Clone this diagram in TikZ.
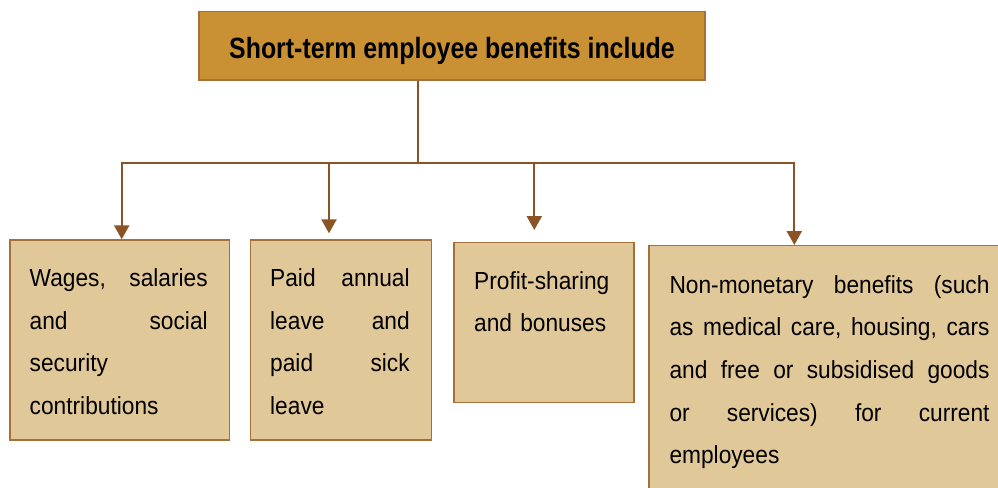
\documentclass[tikz,border=0pt]{standalone}
\usepackage{fontspec}
\setmainfont{Liberation Sans}
\newfontfamily\bodyfont[FakeStretch=0.92]{Liberation Sans}
\newfontfamily\titlefont[FakeStretch=0.85]{Liberation Sans}
\usetikzlibrary{arrows.meta}
\definecolor{titlefill}{RGB}{201,145,52}
\definecolor{boxfill}{RGB}{225,200,152}
\definecolor{boxline}{RGB}{165,112,58}
\definecolor{arrowc}{RGB}{140,84,36}
\newcommand{\jl}[2]{\leavevmode\hbox to #1{#2}}
\tikzset{
  titlebox/.style={draw=boxline, fill=titlefill, line width=1.2pt, inner sep=0pt,
    minimum width=506pt, minimum height=68.3pt, text height=25pt, text depth=0pt,
    font=\titlefont\bfseries\fontsize{29.3}{34}\selectfont},
  itembox/.style={draw=boxline, fill=boxfill, line width=1.2pt, inner sep=0pt, anchor=north west},
  itemtext/.style={inner sep=0pt, anchor=base west, align=left,
    font=\bodyfont\fontsize{24.7}{42.6}\selectfont},
  conn/.style={draw=arrowc, line width=2.3pt},
  arr/.style={conn, -{Triangle[width=15pt,length=14pt]}},
}
\begin{document}
\begin{tikzpicture}[x=1pt,y=-1pt]
\useasboundingbox (0,0) rectangle (998,487);
% title
\node[titlebox] (title) at (452,45.85) {Short-term employee benefits include};
% boxes
\node[itembox, minimum width=219.7pt, minimum height=200pt] (b1) at (9.3,239.3) {};
\node[itembox, minimum width=181pt, minimum height=200pt] (b2) at (250,239.3) {};
\node[itembox, minimum width=180pt, minimum height=160pt] (b3) at (453.3,241.7) {};
\node[itembox, minimum width=360pt, minimum height=260pt] (b4) at (648.3,245) {};
% texts
\node[itemtext, text width=178pt] (t1) at (29.5,286.7)
  {\jl{178pt}{Wages,\hfill salaries}\\ \jl{178pt}{and\hfill social}\\ security\\ contributions};
\node[itemtext, text width=139.5pt] (t2) at (270,286.7)
  {\jl{139.5pt}{Paid\hfill annual}\\ \jl{139.5pt}{leave\hfill and}\\ \jl{139.5pt}{paid\hfill sick}\\ leave};
\node[itemtext, text width=160pt] (t3) at (474,289.3)
  {Profit-sharing\\ and bonuses};
\node[itemtext, text width=320pt] (t4) at (669.3,293.3)
  {\jl{320pt}{Non-monetary\hfill benefits\hfill (such}\\
   \jl{320pt}{as\hfill medical\hfill care,\hfill housing,\hfill cars}\\
   \jl{320pt}{and\hfill free\hfill or\hfill subsidised\hfill goods}\\
   \jl{320pt}{or\hfill services)\hfill for\hfill current}\\
   employees};
% connectors
\coordinate (j) at (418.3,163.3);
\coordinate (bl) at (121.7,163.3);
\coordinate (br) at (794.3,163.3);
\coordinate (c2) at (329,163.3);
\coordinate (c3) at (534.3,163.3);
\draw[conn] (title.south -| j) -- (j);
\draw[arr] (j) -- (bl) -- (bl |- b1.north);
\draw[arr] (j) -- (br) -- (br |- b4.north);
\draw[arr, shorten >=6pt] (c2) -- (c2 |- b2.north);
\draw[arr, shorten >=11.7pt] (c3) -- (c3 |- b3.north);
\end{tikzpicture}
\end{document}
